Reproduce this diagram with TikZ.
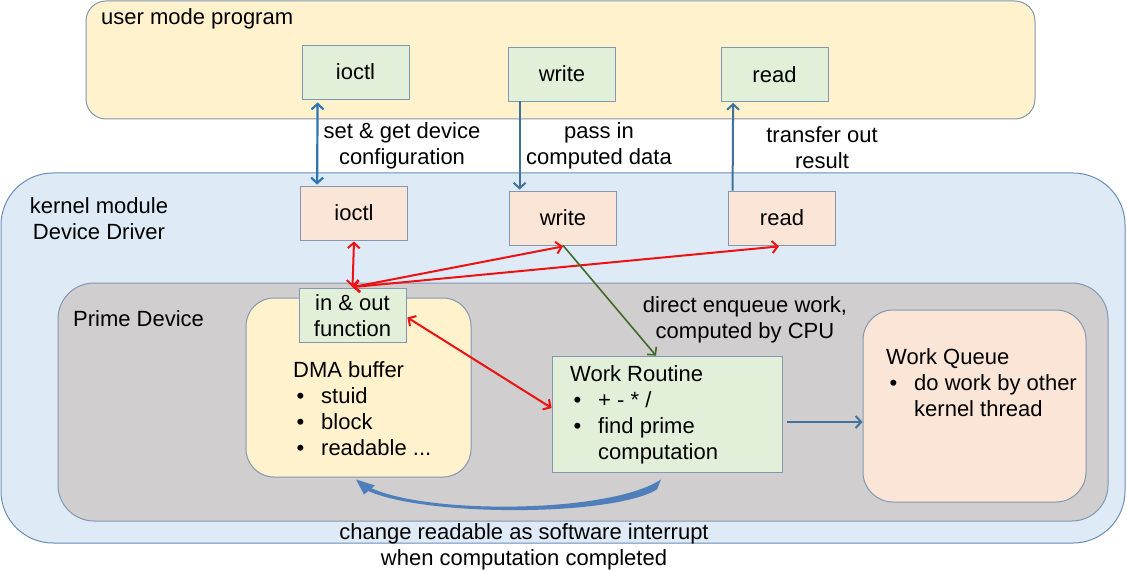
\documentclass[tikz,border=0pt]{standalone}
\usepackage{fontspec}
\setmainfont{Liberation Sans}
\usetikzlibrary{arrows.meta}
\definecolor{userfill}{HTML}{FFF2CC}
\definecolor{kernfill}{HTML}{DEEBF7}
\definecolor{primefill}{HTML}{D0CECE}
\definecolor{greenfill}{HTML}{E2F0D9}
\definecolor{peachfill}{HTML}{FBE5D6}
\definecolor{boxedge}{HTML}{8497B0}
\definecolor{kernedge}{HTML}{6A8DB8}
\definecolor{arrblue}{HTML}{2E75B6}
\definecolor{arrsteel}{HTML}{41719C}
\definecolor{arrred}{HTML}{EE1111}
\definecolor{arrgreen}{HTML}{3F6B2A}
\definecolor{curveblue}{HTML}{4E7FBA}
\newcommand\bul[1]{\hspace*{3.5pt}\makebox[24.5pt][l]{•}#1}
\tikzset{mybarb/.tip={Straight Barb[length=5.5pt,width=12pt]}}
\begin{document}
\begin{tikzpicture}[x=1pt,y=-1pt,
  every node/.style={font=\fontsize{22}{26}\selectfont, text=black},
  container/.style={line width=1pt, inner sep=0pt},
  gbox/.style={draw=boxedge, line width=0.8pt, fill=greenfill, minimum width=107pt, minimum height=54pt, inner sep=0pt},
  pbox/.style={gbox, fill=peachfill},
  lbl/.style={align=center, inner sep=0pt},
  txt/.style={align=left, inner sep=0pt, anchor=north west},
  bluearr/.style={draw=arrblue, line width=2.2pt},
  steelarr/.style={draw=arrsteel, line width=2pt},
  redarr/.style={draw=arrred, line width=2pt},
  greenarr/.style={draw=arrgreen, line width=1.6pt}
]
\useasboundingbox (0,0) rectangle (1127,572);
% containers
\node[container, draw=kernedge, fill=kernfill, rounded corners=52pt, minimum width=1124pt, minimum height=370pt] (kern) at (563,358) {};
\node[container, draw=boxedge, fill=userfill, rounded corners=20pt, minimum width=949pt, minimum height=118pt] (user) at (560.5,60) {};
\node[container, draw=boxedge, fill=primefill, rounded corners=36pt, minimum width=1050pt, minimum height=238pt] (prime) at (583,402) {};
\node[container, draw=boxedge, fill=userfill, rounded corners=28pt, minimum width=225pt, minimum height=179pt] (dma) at (358.5,387.5) {};
\node[container, draw=boxedge, fill=peachfill, rounded corners=30pt, minimum width=223pt, minimum height=192pt] (wq) at (974.5,406) {};
% container labels
\node[inner sep=0pt, anchor=west] (ulbl) at (101,18.5) {user mode program};
\node[lbl] (klbl) at (99,219) {kernel module\\Device Driver};
\node[inner sep=0pt, anchor=west] (plbl) at (73,319) {Prime Device};
% user boxes
\node[gbox] (uioctl) at (355.5,72) {ioctl};
\node[gbox] (uwrite) at (562,74) {write};
\node[gbox] (uread) at (774.5,74.5) {read};
% kernel boxes
\node[pbox] (kioctl) at (354,213) {ioctl};
\node[pbox] (kwrite) at (563,218) {write};
\node[pbox] (kread) at (782,218) {read};
% in & out
\node[gbox, align=center] (inout) at (352.5,315.5) {in \& out\\function};
% work routine
\node[gbox, minimum width=230pt, minimum height=116pt] (wr) at (667,414) {};
\node[txt] (wrtext) at (570,365) {Work Routine\\\bul{+ - * /}\\\bul{find prime}\\\hspace*{28pt}computation};
% DMA text
\node[txt] (dmatext) at (293,361) {DMA buffer\\\bul{stuid}\\\bul{block}\\\bul{readable ...}};
% work queue text
\node[txt] (wqtext) at (886,348) {Work Queue\\\bul{do work by other}\\\hspace*{28pt}kernel thread};
% arrow labels
\node[lbl] (l1) at (402,146) {set \& get device\\configuration};
\node[lbl] (l2) at (599,146) {pass in\\computed data};
\node[lbl] (l3) at (822,148) {transfer out\\result};
\node[lbl] (l4) at (745,320) {direct enqueue work,\\computed by CPU};
\node[lbl] (l5) at (524,547) {change readable as software interrupt\\when computation completed};
% connectors user <-> kernel
\draw[bluearr, {mybarb}-{mybarb}] ([xshift=16pt,yshift=-3pt]uioctl.south west) -- ([xshift=17pt,yshift=1pt]kioctl.north west);
\draw[steelarr, -{mybarb}] ([xshift=11.5pt]uwrite.south west) -- ([xshift=10.5pt,yshift=1pt]kwrite.north west);
\draw[steelarr, -{mybarb}] ([xshift=4.5pt]kread.north west) -- ([xshift=12.5pt,yshift=-1pt]uread.south west);
% red connectors
\draw[redarr, {mybarb}-{mybarb}] ([yshift=1pt]inout.north) -- ([yshift=-1pt]kioctl.south);
\draw[redarr, {mybarb}-{mybarb}] ([yshift=1pt]inout.north) -- ([yshift=-1pt]kwrite.south);
\draw[redarr, {mybarb}-{mybarb}] ([yshift=1pt]inout.north) -- ([xshift=-3pt,yshift=-1pt]kread.south);
\draw[redarr, {mybarb}-{mybarb}] ([xshift=1pt,yshift=-2pt]inout.east) -- ([yshift=6pt]wr.west);
% green connector
\draw[greenarr, -{mybarb}] (kwrite.south) -- ([xshift=-11pt]wr.north);
% work routine -> work queue
\draw[steelarr, -{mybarb}] ([xshift=5pt,yshift=-8pt]wr.east) -- ([yshift=-16pt]wq.west);
% curved arrow (change readable)
\fill[curveblue] ([xshift=8.5pt,yshift=-8.5pt]dma.south) .. controls (420,515) and (610,514) .. ([xshift=-6pt,yshift=-7pt]wr.south)
  -- ([xshift=-10pt,yshift=-17pt]wr.south) .. controls (612,517) and (420,517) .. ([xshift=6.5pt,yshift=-12pt]dma.south) -- cycle;
\fill[curveblue] ([xshift=-2.5pt,yshift=-2pt]dma.south) -- ([xshift=16.5pt,yshift=-8pt]dma.south) -- ([xshift=5.5pt,yshift=-17pt]dma.south) -- cycle;
\end{tikzpicture}
\end{document}
